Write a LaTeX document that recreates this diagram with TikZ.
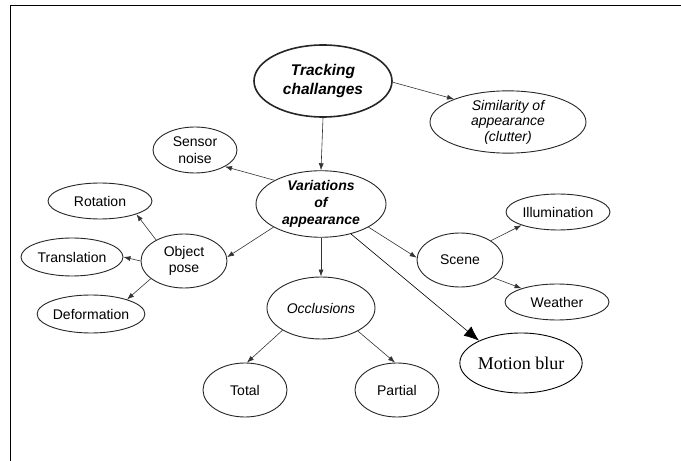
\documentclass[tikz,border=0pt]{standalone}
\usepackage{fontspec}
\setmainfont{Liberation Sans}
\newfontfamily\timesfont{Liberation Serif}
\usetikzlibrary{shapes.geometric,arrows.meta}
\begin{document}
\begin{tikzpicture}[x=1pt,y=1pt,
  ell/.style={ellipse, draw=black!85, line width=0.9pt, inner sep=0pt, align=center, text=black, font=\fontsize{14}{16.5}\selectfont},
  arr/.style={draw=black!80, line width=0.6pt, -{Latex[length=7pt,width=5pt]}},
  bigarr/.style={draw=black, line width=0.6pt, -{Latex[length=15pt,width=12pt]}},
]
\useasboundingbox (0,0) rectangle (681,461);
\draw[line width=1.6pt] (10.5,0) -- (10.5,455.5) -- (681,455.5);

\node[ell, minimum width=138pt, minimum height=72pt, line width=1.6pt, font=\fontsize{15.5}{19}\selectfont\bfseries\itshape] (track) at (323,380) {Tracking\\challanges};
\node[ell, minimum width=156pt, minimum height=62pt, font=\fontsize{14}{15.5}\selectfont\itshape] (sim) at (508,339) {Similarity of\\appearance\\(clutter)};
\node[ell, minimum width=84pt, minimum height=46pt] (sensor) at (195,311) {Sensor\\noise};
\node[ell, minimum width=130pt, minimum height=62pt, font=\fontsize{14}{17}\selectfont\bfseries\itshape] (var) at (321,257) {Variations\\of\\appearance};
\node[ell, minimum width=104pt, minimum height=36pt] (rot) at (100,260) {Rotation};
\node[ell, minimum width=104pt, minimum height=36pt] (illum) at (558,249) {Illumination};
\node[ell, minimum width=86pt, minimum height=54pt] (pose) at (184,200) {Object\\pose};
\node[ell, minimum width=102pt, minimum height=38pt] (trans) at (72,204) {Translation};
\node[ell, minimum width=104pt, minimum height=38pt] (deform) at (91,147) {Deformation};
\node[ell, minimum width=86pt, minimum height=54pt] (scene) at (460,201) {Scene};
\node[ell, minimum width=104pt, minimum height=36pt] (weather) at (557,159) {Weather};
\node[ell, minimum width=108pt, minimum height=62pt, font=\fontsize{14}{16.5}\selectfont\itshape] (occl) at (321,153) {Occlusions};
\node[ell, draw=black, minimum width=122pt, minimum height=60pt, font=\timesfont\fontsize{18}{20}\selectfont] (motion) at (521,98) {Motion blur};
\node[ell, minimum width=84pt, minimum height=54pt] (total) at (245,71) {Total};
\node[ell, minimum width=84pt, minimum height=54pt] (partial) at (397,71) {Partial};

\draw[arr] (track.south) -- (var.north);
\draw[arr] (track.-1) -- (sim.157);
\draw[arr] (var.153) -- (sensor.-29);
\draw[arr] (var.206) -- (pose.5);
\draw[arr] (var.south) -- (occl.north);
\draw[arr] (var.-26) -- (scene.177);
\draw[bigarr] (var.-45) -- (motion.152);
\draw[arr] (pose.143) -- (rot.-20);
\draw[arr] (pose.180) -- (trans.0);
\draw[arr] (pose.208) -- (deform.22);
\draw[arr] (scene.32) -- (illum.200);
\draw[arr] (scene.-28) -- (weather.159);
\draw[arr] (occl.210) -- (total.86);
\draw[arr] (occl.-32) -- (partial.94);
\end{tikzpicture}
\end{document}
